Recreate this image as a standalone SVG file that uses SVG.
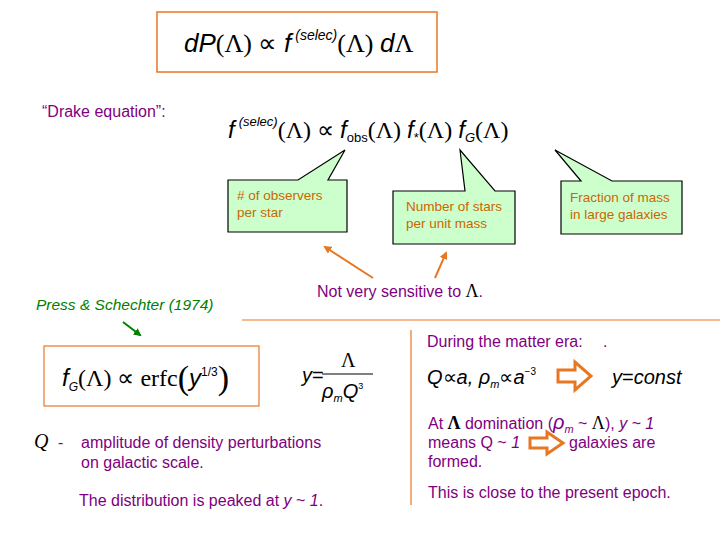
<svg xmlns="http://www.w3.org/2000/svg" width="720" height="540" viewBox="0 0 720 540">
<style>
.m{font-family:"Liberation Sans",Arial,sans-serif;font-style:italic;fill:#000}
.s{font-family:"Liberation Serif","Times New Roman",serif;fill:#000}
.p{font-family:"Liberation Sans",Arial,sans-serif;fill:#800080;font-size:16px}
.o{font-family:"Liberation Sans",Arial,sans-serif;fill:#cc6600;font-size:13.5px}
.call{fill:#ccffcc;stroke:#000;stroke-width:1.2}
.ol{stroke:#e87722;stroke-width:2}
</style>
<defs>
<marker id="ar" markerWidth="8" markerHeight="8" refX="6" refY="4" orient="auto" markerUnits="userSpaceOnUse"><path d="M0,0L8,4L0,8z" fill="#e87722"/></marker>
<marker id="ag" markerWidth="8" markerHeight="8" refX="6" refY="4" orient="auto" markerUnits="userSpaceOnUse"><path d="M0,0L8,4L0,8z" fill="#008000"/></marker>
</defs>
<g id="top">
<rect x="157" y="12" width="280" height="60" fill="#fff" stroke="#e87722" stroke-width="1.5"/>
<text x="184" y="52" class="m" font-size="26">dP<tspan class="s" font-style="normal">(Λ) ∝ </tspan>f<tspan font-size="14" dx="4" dy="-12">(selec)</tspan><tspan class="s" font-style="normal" font-size="26" dy="12">(Λ) </tspan>d<tspan class="s" font-style="normal">Λ</tspan></text>
</g>
<g id="drake">
<text x="42" y="117" class="p">“Drake equation”:</text>
<text x="228" y="138" class="m" font-size="24">f<tspan font-size="13" dx="4" dy="-12">(selec)</tspan><tspan class="s" font-style="normal" font-size="24" dy="12">(Λ) ∝ </tspan>f<tspan font-size="13" font-style="normal" dy="4">obs</tspan><tspan class="s" font-style="normal" font-size="24" dy="-4">(Λ)  </tspan>f<tspan font-size="13" font-style="normal" dy="4">*</tspan><tspan class="s" font-style="normal" font-size="24" dy="-4">(Λ)  </tspan>f<tspan font-size="13" dy="4">G</tspan><tspan class="s" font-style="normal" font-size="24" dy="-4">(Λ)</tspan></text>
</g>
<g id="c1">
<path class="call" d="M228,180H298L345,150L328,180H347V232H228Z"/>
<text x="237" y="200" class="o"># of observers</text>
<text x="237" y="217" class="o">per star</text>
</g>
<g id="c2">
<path class="call" d="M393,191H465L460,150L495,191H515V244H393Z"/>
<text x="406" y="211" class="o">Number of stars</text>
<text x="406" y="228" class="o">per unit mass</text>
</g>
<g id="c3">
<path class="call" d="M561,181H581L555,150L612,181H682V234H561Z"/>
<text x="570" y="202" class="o">Fraction of mass</text>
<text x="570" y="219" class="o">in large galaxies</text>
</g>
<g id="connectors">
<line class="ol" x1="373" y1="278" x2="325" y2="247" marker-end="url(#ar)"/>
<line class="ol" x1="435" y1="278" x2="446" y2="253" marker-end="url(#ar)"/>
<line x1="123" y1="322" x2="140" y2="335" stroke="#008000" stroke-width="2" marker-end="url(#ag)"/>
<line x1="242" y1="320" x2="720" y2="320" stroke="#e87722" stroke-width="1.2"/>
<line x1="411" y1="330" x2="411" y2="505" stroke="#e87722" stroke-width="1.2"/>
</g>
<g id="notsens">
<text x="317" y="297" class="p" font-size="15">Not very sensitive to <tspan class="s" fill="#000" font-size="18">Λ</tspan>.</text>
</g>
<text x="36" y="310" font-family="Liberation Sans,Arial,sans-serif" font-style="italic" font-size="15.5" fill="#008000">Press &amp; Schechter (1974)</text>
<g id="fg">
<rect x="44" y="346" width="215" height="60" fill="#fff" stroke="#e87722" stroke-width="1.2"/>
<text x="62" y="386" class="m" font-size="24">f<tspan font-size="12" dy="5">G</tspan><tspan class="s" font-style="normal" font-size="24" dy="-5">(Λ) ∝ erfc</tspan><tspan class="s" font-style="normal" font-size="34" dy="3">(</tspan><tspan font-size="24" dy="-3">y</tspan><tspan font-size="12" font-style="normal" dy="-10">1/3</tspan><tspan class="s" font-style="normal" font-size="34" dy="13">)</tspan></text>
</g>
<g id="yeq">
<text x="302" y="382" class="m" font-size="20">y<tspan font-style="normal">=</tspan></text>
<text x="341" y="367" class="s" font-size="20">Λ</text>
<line x1="322" y1="374" x2="373" y2="374" stroke="#000" stroke-width="1"/>
<text x="322" y="398" class="m" font-size="20">ρ<tspan font-size="11" dy="4">m</tspan><tspan dy="-4">Q</tspan><tspan font-size="9" font-style="normal" dy="-9">3</tspan></text>
</g>
<g id="matter">
<text x="427" y="347" class="p">During the matter era:</text>
<text x="603" y="347" class="p">.</text>
<text x="427" y="384" class="m" font-size="20">Q<tspan font-style="normal">∝</tspan>a,  ρ<tspan font-size="11" dy="4">m</tspan><tspan font-style="normal" dy="-4">∝</tspan>a<tspan font-size="10" font-style="normal" dy="-9">−3</tspan></text>
<path d="M558,370H575V362L591,376L575,390V382H558Z" fill="#fff" stroke="#e87722" stroke-width="3"/>
<text x="612" y="384" class="m" font-size="20">y<tspan font-style="normal">=</tspan>const</text>
</g>
<g id="q">
<text x="34" y="448" class="s" font-style="italic" font-size="20">Q</text>
<text x="58" y="448" class="p">-</text>
<text x="81" y="448" class="p">amplitude of density perturbations</text>
<text x="81" y="468" class="p">on galactic scale.</text>
<text x="79" y="506" class="p">The distribution is peaked at <tspan font-style="italic">y</tspan> ~ <tspan font-style="italic">1</tspan>.</text>
</g>
<g id="dom">
<text x="428" y="429" class="p">At  <tspan class="s" fill="#000" font-weight="bold" font-size="18">Λ</tspan> domination (<tspan font-style="italic" font-size="20">ρ</tspan><tspan font-style="italic" font-size="11" dy="4">m</tspan><tspan dy="-4"> ~ </tspan><tspan class="s" fill="#800080" font-size="18">Λ</tspan>), <tspan font-style="italic">y ~ 1</tspan></text>
<text x="428" y="448" class="p">means Q ~ <tspan font-style="italic">1</tspan></text>
<path d="M530,438H547V432L563,443L547,454V448H530Z" fill="#fff" stroke="#e87722" stroke-width="3"/>
<text x="569" y="448" class="p">galaxies are</text>
<text x="428" y="467" class="p">formed.</text>
<text x="428" y="498" class="p">This is close to the present epoch.</text>
</g>
</svg>
